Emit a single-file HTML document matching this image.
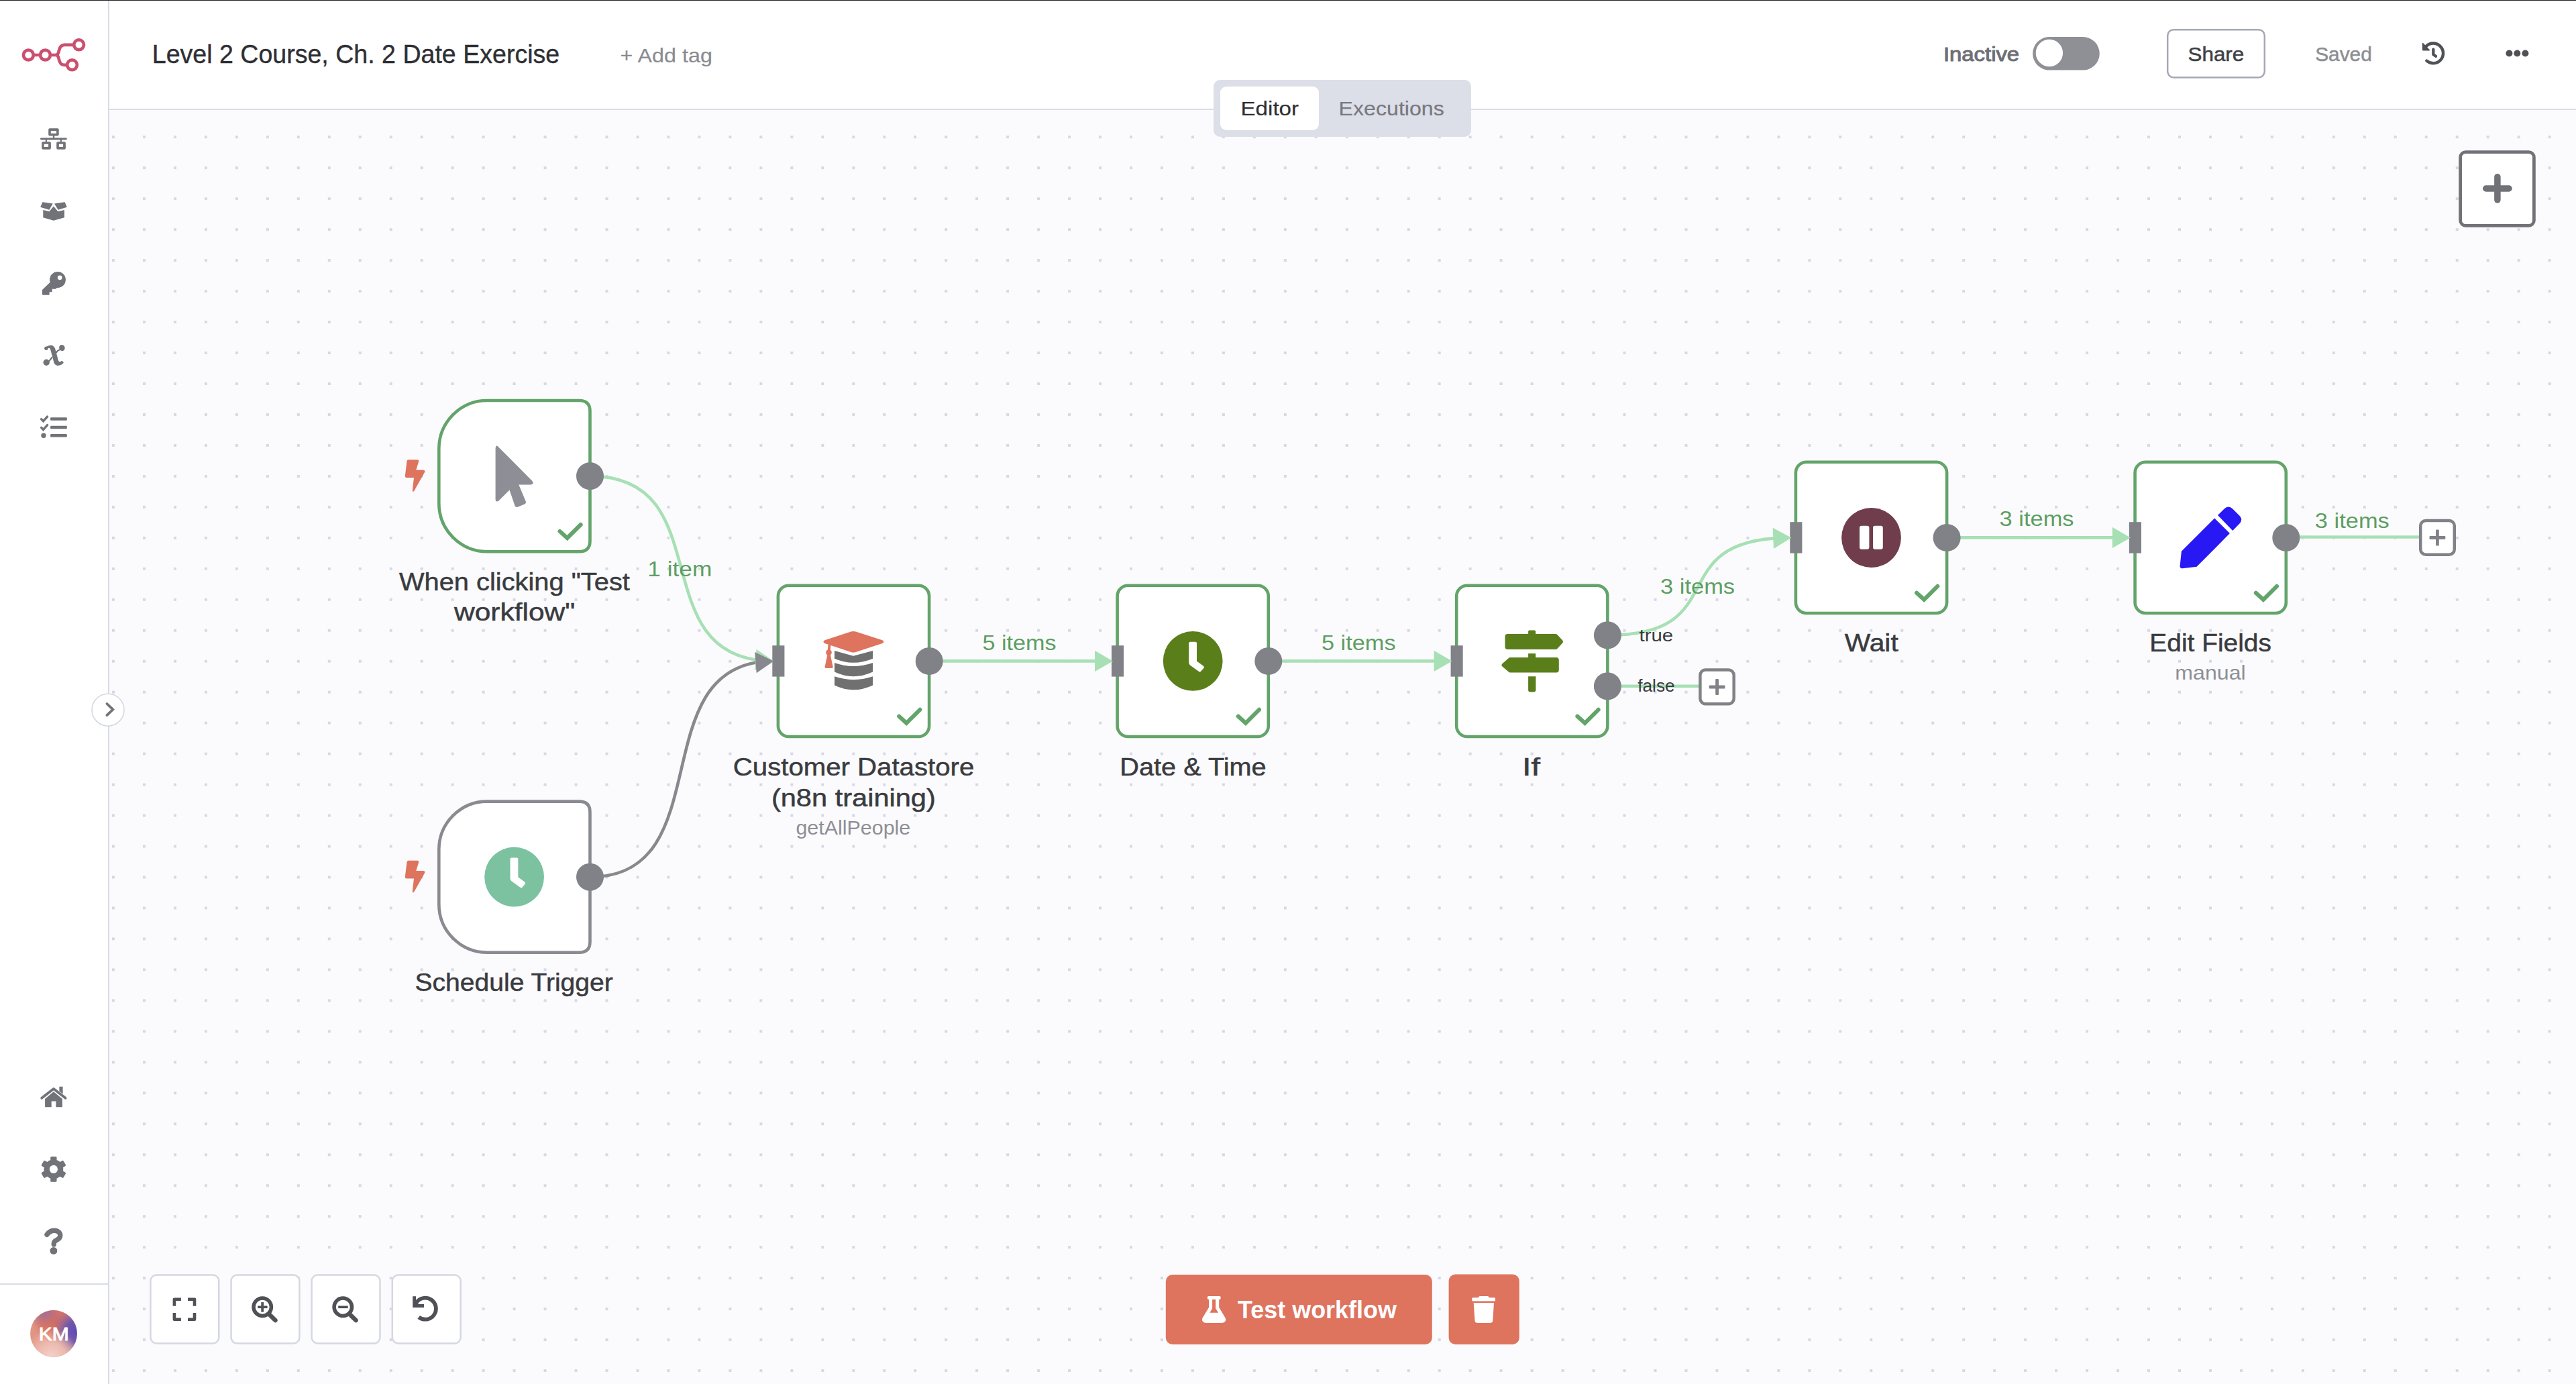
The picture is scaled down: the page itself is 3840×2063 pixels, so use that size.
<!DOCTYPE html>
<html><head><meta charset="utf-8"><title>n8n - Level 2 Course, Ch. 2 Date Exercise</title>
<style>
html,body{margin:0;padding:0;width:3840px;height:2063px;overflow:hidden;background:#fbfbfd;}
svg{display:block;font-family:"Liberation Sans",sans-serif;}
</style></head><body>
<svg width="3840" height="2063" viewBox="0 0 3840 2063">
<defs>
<pattern id="dots" x="167" y="202.25" width="45.97" height="45.97" patternUnits="userSpaceOnUse">
<rect x="0" y="0" width="4" height="4" fill="#d6d9e4"/>
</pattern>
<radialGradient id="av1" cx="0.55" cy="0.22" r="0.5"><stop offset="0" stop-color="#dc6c56"/><stop offset="0.6" stop-color="#dc6c56" stop-opacity="0.7"/><stop offset="1" stop-color="#dc6c56" stop-opacity="0"/></radialGradient>
<radialGradient id="av2" cx="1.0" cy="0.45" r="0.55"><stop offset="0" stop-color="#5a48b8"/><stop offset="0.45" stop-color="#6a54b0" stop-opacity="0.9"/><stop offset="1" stop-color="#8a70b0" stop-opacity="0"/></radialGradient>
<radialGradient id="av3" cx="0.45" cy="1.0" r="0.6"><stop offset="0" stop-color="#f4d2ca"/><stop offset="0.5" stop-color="#f0c4ba" stop-opacity="0.8"/><stop offset="1" stop-color="#f0c4ba" stop-opacity="0"/></radialGradient>
<radialGradient id="av4" cx="0.3" cy="0.0" r="0.4"><stop offset="0" stop-color="#a06c98"/><stop offset="1" stop-color="#a06c98" stop-opacity="0"/></radialGradient>
</defs>
<rect x="0" y="0" width="3840" height="2063" fill="#fbfbfd"/>
<rect x="163" y="164" width="3677" height="1899" fill="url(#dots)"/>

<path d="M879.5 709.6 C1073.4 709.6 958.3 974.1 1141.4 985.1" fill="none" stroke="#a7e0b4" stroke-width="4.6"/>
<path d="M879.5 1307.2 C1073.4 1307.2 958.3 998.6 1141.4 985.8" fill="none" stroke="#88898e" stroke-width="4.6"/>
<path d="M1385.2 985.4 L1639.0 985.4" stroke="#a7e0b4" stroke-width="4.6"/>
<path d="M1890.8 985.4 L2144.6 985.4" stroke="#a7e0b4" stroke-width="4.6"/>
<path d="M2396.4 946.8 C2586.4 946.8 2476.1 807.4 2658.3 801.6" fill="none" stroke="#a7e0b4" stroke-width="4.6"/>
<path d="M2396.4 1022.8 L2534 1022.8" stroke="#a7e0b4" stroke-width="4.6"/>
<path d="M2902.1 801.4 L3155.9 801.4" stroke="#a7e0b4" stroke-width="4.6"/>
<path d="M3407.8 800.5 L3608 800.5" stroke="#a7e0b4" stroke-width="4.6"/>
<path d="M726.3 597.0 H863.5 Q879.5 597.0 879.5 613.0 V806.2 Q879.5 822.2 863.5 822.2 H726.3 A72 72 0 0 1 654.3 750.2 V669.0 A72 72 0 0 1 726.3 597.0 Z" fill="#fff" stroke="#63a46a" stroke-width="4.6"/>
<path d="M726.3 1194.6 H863.5 Q879.5 1194.6 879.5 1210.6 V1403.8 Q879.5 1419.8 863.5 1419.8 H726.3 A72 72 0 0 1 654.3 1347.8 V1266.6 A72 72 0 0 1 726.3 1194.6 Z" fill="#fff" stroke="#8a8b90" stroke-width="4.6"/>
<rect x="1159.9" y="872.8" width="225.2" height="225.2" rx="16" ry="16" fill="#fff" stroke="#63a46a" stroke-width="4.6"/>
<rect x="1665.6" y="872.8" width="225.2" height="225.2" rx="16" ry="16" fill="#fff" stroke="#63a46a" stroke-width="4.6"/>
<rect x="2171.2" y="872.8" width="225.2" height="225.2" rx="16" ry="16" fill="#fff" stroke="#63a46a" stroke-width="4.6"/>
<rect x="2676.9" y="688.8" width="225.2" height="225.2" rx="16" ry="16" fill="#fff" stroke="#63a46a" stroke-width="4.6"/>
<rect x="3182.6" y="688.8" width="225.2" height="225.2" rx="16" ry="16" fill="#fff" stroke="#63a46a" stroke-width="4.6"/>
<circle cx="879.5" cy="709.6" r="20.5" fill="#818287"/>
<circle cx="879.5" cy="1307.2" r="20.5" fill="#818287"/>
<circle cx="1385.2" cy="985.4" r="20.5" fill="#818287"/>
<circle cx="1890.8" cy="985.4" r="20.5" fill="#818287"/>
<circle cx="2396.4" cy="946.8" r="20.5" fill="#818287"/>
<circle cx="2396.4" cy="1022.8" r="20.5" fill="#818287"/>
<circle cx="2902.1" cy="801.4" r="20.5" fill="#818287"/>
<circle cx="3407.8" cy="801.4" r="20.5" fill="#818287"/>
<rect x="1151.3" y="962.2" width="18.1" height="46.4" fill="#818287"/>
<rect x="1657.0" y="962.2" width="18.1" height="46.4" fill="#818287"/>
<rect x="2162.6" y="962.2" width="18.1" height="46.4" fill="#818287"/>
<rect x="2668.3" y="778.2" width="18.1" height="46.4" fill="#818287"/>
<rect x="3173.9" y="778.2" width="18.1" height="46.4" fill="#818287"/>
<path d="M1153.3 985.4 L1125.3 999.2 L1127.5 967.8 Z" fill="#a7e0b4"/>
<path d="M1153.3 985.4 L1127.7 1003.2 L1125.2 972.0 Z" fill="#88898e"/>
<path d="M1659.0 985.4 L1632.0 969.7 L1632.0 1001.1 Z" fill="#a7e0b4"/>
<path d="M2164.6 985.4 L2137.6 969.7 L2137.6 1001.1 Z" fill="#a7e0b4"/>
<path d="M2670.3 801.4 L2643.9 818.1 L2642.7 786.7 Z" fill="#a7e0b4"/>
<path d="M3175.9 801.4 L3148.9 785.7 L3148.9 817.1 Z" fill="#a7e0b4"/>
<polyline points="834.5,791.9 845.6,802.0 865.7,782.0" fill="none" stroke="#63a46a" stroke-width="6" stroke-linecap="round" stroke-linejoin="miter"/>
<polyline points="1340.2,1067.7 1351.2,1077.8 1371.4,1057.8" fill="none" stroke="#63a46a" stroke-width="6" stroke-linecap="round" stroke-linejoin="miter"/>
<polyline points="1845.8,1067.7 1856.9,1077.8 1877.0,1057.8" fill="none" stroke="#63a46a" stroke-width="6" stroke-linecap="round" stroke-linejoin="miter"/>
<polyline points="2351.4,1067.7 2362.6,1077.8 2382.7,1057.8" fill="none" stroke="#63a46a" stroke-width="6" stroke-linecap="round" stroke-linejoin="miter"/>
<polyline points="2857.1,883.7 2868.2,893.8 2888.3,873.8" fill="none" stroke="#63a46a" stroke-width="6" stroke-linecap="round" stroke-linejoin="miter"/>
<polyline points="3362.8,883.7 3373.9,893.8 3394.0,873.8" fill="none" stroke="#63a46a" stroke-width="6" stroke-linecap="round" stroke-linejoin="miter"/>
<rect x="2534.4" y="998.6" width="50.3" height="50.6" rx="8" fill="#fff" stroke="#818287" stroke-width="4.5"/><rect x="2547.7" y="1021.6" width="23.8" height="4.8" rx="1.2" fill="#818287"/><rect x="2557.2" y="1012.1" width="4.8" height="23.8" rx="1.2" fill="#818287"/>
<rect x="3608.2" y="776.1" width="50.6" height="50.6" rx="8" fill="#fff" stroke="#818287" stroke-width="4.5"/><rect x="3621.5" y="799.1" width="23.8" height="4.8" rx="1.2" fill="#818287"/><rect x="3631.0" y="789.6" width="4.8" height="23.8" rx="1.2" fill="#818287"/>
<path transform="translate(0.0,0.0)" d="M608.5 685.2 L622 685.2 Q625 685.6 624 688.5 L620.3 700.4 L631 700.4 Q634.5 701 633 704 L617.5 731.5 Q615.5 734.5 614.8 731 L617 712 L606 712 Q603.5 711.6 603.9 709 L606.5 687.5 Q607 685.3 608.5 685.2 Z" fill="#de735e"/>
<path transform="translate(0.0,597.6)" d="M608.5 685.2 L622 685.2 Q625 685.6 624 688.5 L620.3 700.4 L631 700.4 Q634.5 701 633 704 L617.5 731.5 Q615.5 734.5 614.8 731 L617 712 L606 712 Q603.5 711.6 603.9 709 L606.5 687.5 Q607 685.3 608.5 685.2 Z" fill="#de735e"/>
<path d="M742 665.2 L793.2 716.8 Q797 721.8 791 722.4 L773.3 722.4 L783.6 747 Q785 750.3 781.5 751.8 L772.3 755.6 Q768.6 756.9 767.4 753.4 L759.5 730.4 L743.6 746.2 Q738.6 749.6 738.6 744 L738.6 668.4 Q739.2 662.6 742 665.2 Z" fill="#8e8f96"/>
<circle cx="766.6" cy="1307.2" r="44.4" fill="#7cc2a1"/><path transform="translate(-1011.65,321.80)" d="M1774.2 956.7 H1782 Q1784 956.7 1784 958.7 V985.6 L1793.6 992.6 Q1795.6 994.2 1794.3 995.9 L1790.3 1000.6 Q1789 1002.2 1787.2 1001 L1774.6 992 Q1772.2 990.2 1772.2 987.4 V958.7 Q1772.2 956.7 1774.2 956.7 Z" fill="#fff"/>
<circle cx="1778.2" cy="985.4" r="44.4" fill="#5a7f1a"/><path transform="translate(0.00,0.00)" d="M1774.2 956.7 H1782 Q1784 956.7 1784 958.7 V985.6 L1793.6 992.6 Q1795.6 994.2 1794.3 995.9 L1790.3 1000.6 Q1789 1002.2 1787.2 1001 L1774.6 992 Q1772.2 990.2 1772.2 987.4 V958.7 Q1772.2 956.7 1774.2 956.7 Z" fill="#fff"/>
<g>
<path d="M1244 970 L1272.1 977.7 L1301.1 970 V981.7 Q1272.1 994 1244 981.7 Z" fill="#707070"/>
<path d="M1244 988 Q1272.1 998 1301.1 988 V1001.5 Q1272.1 1015 1244 1001.5 Z" fill="#707070"/>
<path d="M1244 1008.3 Q1272.1 1018 1301.1 1008.3 V1021.4 Q1272.1 1035 1244 1021.4 Z" fill="#707070"/>
<path d="M1229.5 954.2 L1268.5 941.5 Q1272.1 940.3 1275.7 941.5 L1315.3 954.2 Q1319.5 956.6 1315.3 959 L1275.7 972 Q1272.1 973.2 1268.5 972 L1229.5 959 Q1225.3 956.6 1229.5 954.2 Z" fill="#de735e"/>
<path d="M1234.5 961 L1238.5 961 L1237.5 971 L1233.5 971 Z" fill="#de735e"/>
<circle cx="1235.5" cy="972.6" r="4.3" fill="#de735e"/>
<path d="M1233.5 975.5 L1237.8 975.5 L1241.6 994 Q1242 996 1240 996 L1231 996 Q1229.3 996 1229.6 994 Z" fill="#de735e"/>
</g>
<g fill="#5a7f1a">
<path d="M2280.1 939.5 H2287.2 Q2289.2 939.5 2289.2 941.5 V946 H2278.1 V941.5 Q2278.1 939.5 2280.1 939.5 Z"/>
<path d="M2247.5 945.1 H2318.6 Q2320.4 945.1 2321.6 946.3 L2329.2 954.6 Q2330.6 956.6 2329.2 958.6 L2321.6 966.8 Q2320.4 968 2318.6 968 H2247.5 Q2243.5 968 2243.5 964 V949.1 Q2243.5 945.1 2247.5 945.1 Z"/>
<rect x="2278.1" y="974.1" width="11.1" height="6.5"/>
<path d="M2251.5 980.1 H2320 Q2323.8 980.1 2323.8 984 V998.6 Q2323.8 1002.5 2320 1002.5 H2251.5 Q2249.8 1002.5 2248.6 1001.3 L2239.2 993.2 Q2237.6 991.3 2239.2 989.4 L2248.6 981.3 Q2249.8 980.1 2251.5 980.1 Z"/>
<path d="M2278.1 1008.3 H2289.4 V1028.6 Q2289.4 1031.6 2286.4 1031.6 H2281.1 Q2278.1 1031.6 2278.1 1028.6 Z"/>
</g>
<circle cx="2789.5" cy="801.5" r="44.4" fill="#6f3d4b"/>
<rect x="2772" y="783.8" width="14.4" height="35" rx="3" fill="#fff"/>
<rect x="2792" y="783.8" width="14.8" height="35" rx="3" fill="#fff"/>
<path d="M3251.9 821.7 L3301.2 772.4 L3323.9 795.1 L3274.6 844.8 L3253.4 847.2 Q3249.2 847.6 3249.6 843.4 Z" fill="#2819f4"/>
<path d="M3306 768.1 L3315.6 758.6 Q3321.9 752.6 3328.2 758.6 L3338.2 768.4 Q3344.2 774.6 3338.2 780.8 L3328.2 791.1 Z" fill="#2819f4"/>
<text x="594.98" y="879.85" font-size="36.77" font-weight="normal" fill="#3a3b40" textLength="343.91" lengthAdjust="spacingAndGlyphs" stroke="#3a3b40" stroke-width="0.5" stroke-linejoin="round">When clicking &quot;Test</text>
<text x="676.97" y="925.25" font-size="36.77" font-weight="normal" fill="#3a3b40" textLength="180.40" lengthAdjust="spacingAndGlyphs" stroke="#3a3b40" stroke-width="0.5" stroke-linejoin="round">workflow&quot;</text>
<text x="1092.84" y="1155.65" font-size="36.77" font-weight="normal" fill="#3a3b40" textLength="359.41" lengthAdjust="spacingAndGlyphs" stroke="#3a3b40" stroke-width="0.5" stroke-linejoin="round">Customer Datastore</text>
<text x="1149.92" y="1201.55" font-size="36.77" font-weight="normal" fill="#3a3b40" textLength="244.93" lengthAdjust="spacingAndGlyphs" stroke="#3a3b40" stroke-width="0.5" stroke-linejoin="round">(n8n training)</text>
<text x="1186.40" y="1243.90" font-size="30.23" font-weight="normal" fill="#8e8f96" textLength="170.87" lengthAdjust="spacingAndGlyphs">getAllPeople</text>
<text x="1669.24" y="1155.65" font-size="36.77" font-weight="normal" fill="#3a3b40" textLength="218.48" lengthAdjust="spacingAndGlyphs" stroke="#3a3b40" stroke-width="0.5" stroke-linejoin="round">Date &amp; Time</text>
<text x="2269.10" y="1155.65" font-size="36.77" font-weight="normal" fill="#3a3b40" textLength="27.01" lengthAdjust="spacingAndGlyphs" stroke="#3a3b40" stroke-width="0.5" stroke-linejoin="round">If</text>
<text x="2749.66" y="971.45" font-size="36.77" font-weight="normal" fill="#3a3b40" textLength="80.12" lengthAdjust="spacingAndGlyphs" stroke="#3a3b40" stroke-width="0.5" stroke-linejoin="round">Wait</text>
<text x="3204.36" y="971.45" font-size="36.77" font-weight="normal" fill="#3a3b40" textLength="181.48" lengthAdjust="spacingAndGlyphs" stroke="#3a3b40" stroke-width="0.5" stroke-linejoin="round">Edit Fields</text>
<text x="3242.38" y="1013.00" font-size="30.23" font-weight="normal" fill="#8e8f96" textLength="105.33" lengthAdjust="spacingAndGlyphs">manual</text>
<text x="618.50" y="1476.95" font-size="36.77" font-weight="normal" fill="#3a3b40" textLength="295.30" lengthAdjust="spacingAndGlyphs" stroke="#3a3b40" stroke-width="0.5" stroke-linejoin="round">Schedule Trigger</text>
<text x="965.24" y="859.00" font-size="31.83" font-weight="normal" fill="#5d9e62" textLength="96.17" lengthAdjust="spacingAndGlyphs">1 item</text>
<text x="1464.50" y="968.80" font-size="31.83" font-weight="normal" fill="#5d9e62" textLength="109.99" lengthAdjust="spacingAndGlyphs">5 items</text>
<text x="1969.96" y="968.80" font-size="31.83" font-weight="normal" fill="#5d9e62" textLength="110.65" lengthAdjust="spacingAndGlyphs">5 items</text>
<text x="2475.06" y="885.30" font-size="31.83" font-weight="normal" fill="#5d9e62" textLength="110.99" lengthAdjust="spacingAndGlyphs">3 items</text>
<text x="2980.62" y="784.40" font-size="31.83" font-weight="normal" fill="#5d9e62" textLength="110.99" lengthAdjust="spacingAndGlyphs">3 items</text>
<text x="3450.84" y="786.90" font-size="31.83" font-weight="normal" fill="#5d9e62" textLength="110.99" lengthAdjust="spacingAndGlyphs">3 items</text>
<text x="2443.54" y="955.80" font-size="25.73" font-weight="normal" fill="#3a3b40" textLength="50.72" lengthAdjust="spacingAndGlyphs">true</text>
<text x="2441.20" y="1031.30" font-size="25.73" font-weight="normal" fill="#3a3b40" textLength="55.39" lengthAdjust="spacingAndGlyphs">false</text>
<rect x="0" y="0" width="161" height="2063" fill="#fff"/>
<rect x="161" y="0" width="2" height="2063" fill="#d9dce7"/>
<rect x="0" y="1913" width="161" height="2" fill="#d9dce7"/>
<rect x="163" y="0" width="3677" height="162" fill="#fff"/>
<rect x="163" y="162" width="3677" height="2" fill="#d9dce7"/>
<rect x="0" y="0" width="3840" height="1" fill="#232323"/>
<circle cx="161" cy="1058.2" r="24" fill="#fff" stroke="#d5d8e3" stroke-width="1.6"/>
<polyline points="159.4,1049 168.3,1057.6 159.4,1066.2" fill="none" stroke="#727379" stroke-width="3.8" stroke-linecap="round" stroke-linejoin="miter"/>
<g fill="none" stroke="#cb4f70" stroke-width="4.7">
<circle cx="42.4" cy="82" r="7.4"/><circle cx="67.5" cy="82" r="7.4"/>
<circle cx="117.6" cy="66.8" r="7.4"/><circle cx="107.5" cy="96.8" r="7.4"/>
<path d="M49.8 82 H60.1 M74.9 82 H82.5 C86.5 82 87.2 79 87.9 75.5 C89 70 91 66.8 96 66.8 H110.2 M82.5 82 C86.5 82 87.2 85 87.9 88.5 C89 94 91 96.8 96 96.8 H100.1"/>
</g>
<g fill="#727379">
<path fill-rule="evenodd" d="M74.2 191.2 H85.7 Q87.7 191.2 87.7 193.2 V200.6 Q87.7 202.6 85.7 202.6 H74.2 Q72.2 202.6 72.2 200.6 V193.2 Q72.2 191.2 74.2 191.2 Z M75.8 195 V199.1 H84.1 V195 Z"/>
<rect x="78.8" y="202" width="2.4" height="4"/>
<rect x="60" y="205.6" width="39.8" height="2.8" rx="1.4"/>
<rect x="67.8" y="208" width="2.2" height="3.6"/>
<rect x="89.8" y="208" width="2.2" height="3.6"/>
<path fill-rule="evenodd" d="M64.2 211.2 H73.9 Q75.9 211.2 75.9 213.2 V220.7 Q75.9 222.7 73.9 222.7 H64.2 Q62.2 222.7 62.2 220.7 V213.2 Q62.2 211.2 64.2 211.2 Z M65.7 214.7 V219 H72.1 V214.7 Z"/>
<path fill-rule="evenodd" d="M86.2 211.2 H95.9 Q97.9 211.2 97.9 213.2 V220.7 Q97.9 222.7 95.9 222.7 H86.2 Q84.2 222.7 84.2 220.7 V213.2 Q84.2 211.2 86.2 211.2 Z M87.9 214.7 V219 H94.1 V214.7 Z"/>
</g>
<g fill="#727379">
<path d="M63.4 301.3 L78.8 303.6 L73.4 312.7 L60.2 308.8 Z"/>
<path d="M81 303.6 L96.6 301.3 L99.8 308.8 L86.6 312.7 Z"/>
<path d="M64.3 313 L73.4 315.3 L79.9 307.5 L86.4 315.3 L96 313 V324.2 L79.9 328.8 L64.3 324.2 Z"/>
</g>
<g fill="#727379"><circle cx="86" cy="417" r="11.9"/>
<path d="M76 419.5 L63 432 V438.5 Q63 439.8 64.3 439.8 H73.6 V435.3 H77.7 V430.7 H83 L86 428 Z"/></g>
<circle cx="89.2" cy="413.8" r="3.4" fill="#fff"/>
<path d="M66.47 519.37 C67 518.3 67.7 517.7 68.64 517.2 C70 516.3 71.2 515.6 72.54 515.25 C73.8 514.8 74.9 514.6 76.01 514.6 C77.3 514.7 78.6 515.1 79.48 515.9 C80.4 516.7 81.1 517.5 81.64 518.5 C82.2 519.7 82.6 521 82.94 522.4 L84.24 527.18 L85.98 533.68 C86.4 535.5 86.8 537 87.28 538.01 C87.8 538.9 88.4 539.3 89.01 539.31 C89.9 539.3 90.8 538.6 91.61 538.23 C92.4 537.9 93.2 538.2 93.78 538.88 C94.5 539.5 94.8 540 94.65 540.61 C94.4 541.6 93.7 542.3 92.91 542.78 C91.6 543.5 90.3 544.1 89.01 544.51 C87.8 544.9 86.7 545.1 85.54 544.95 C84.2 544.7 83 544.1 82.08 543.21 C81.2 542.3 80.7 541.3 80.34 540.18 L78.61 533.68 L76.87 527.18 L75.57 522.41 C75.2 521 74.8 520 74.27 519.37 C73.7 518.8 73.1 518.7 72.54 518.72 C71.8 518.8 71.1 519.2 70.37 519.59 C69.6 520 68.9 520.5 68.21 520.67 C67.5 520.8 66.9 520.5 66.47 519.8 Z" fill="#727379"/>
<path d="M90.5 520.5 C87.5 521.5 85.5 523 83.4 525.8 M77.2 533 C75.5 535.8 74 537.6 72 539" fill="none" stroke="#727379" stroke-width="2.3" stroke-linecap="round"/>
<ellipse cx="92.4" cy="518.6" rx="4.2" ry="4.7" transform="rotate(-25 92.4 518.6)" fill="#727379"/>
<ellipse cx="69.2" cy="540.3" rx="4.7" ry="4.7" fill="#727379"/><circle cx="68.9" cy="519.3" r="2.7" fill="#727379"/>
<g fill="#727379">
<rect x="75.1" y="622.3" width="24.7" height="4.5" rx="1"/>
<rect x="75.1" y="634.7" width="24.7" height="4.5" rx="1"/>
<rect x="75.1" y="647.1" width="24.7" height="4.5" rx="1"/>
<circle cx="65" cy="649.3" r="3.7"/></g>
<g fill="none" stroke="#727379" stroke-width="3.4" stroke-linecap="round">
<polyline points="61.6,624.8 64.5,627.8 70.6,621"/>
<polyline points="61.6,637.4 64.5,640.4 70.6,633.6"/></g>
<g fill="#727379">
<path d="M62.2 1636.8 L79.9 1622.9 L97.6 1636.8" fill="none" stroke="#727379" stroke-width="3.8" stroke-linecap="round" stroke-linejoin="round"/>
<path d="M88.4 1619.7 H93.6 V1630.4 L88.4 1626.6 Z"/>
<path d="M67.1 1638 L79.9 1627.3 L92.9 1638 V1650.3 H83.4 V1641.4 H76.7 V1650.3 H67.1 Z"/>
</g>
<circle cx="79.9" cy="1742.9" r="14.4" fill="#727379"/><rect x="75.25" y="1724" width="9.3" height="10" rx="1.6" fill="#727379" transform="rotate(0 79.9 1742.9)"/><rect x="75.25" y="1724" width="9.3" height="10" rx="1.6" fill="#727379" transform="rotate(60 79.9 1742.9)"/><rect x="75.25" y="1724" width="9.3" height="10" rx="1.6" fill="#727379" transform="rotate(120 79.9 1742.9)"/><rect x="75.25" y="1724" width="9.3" height="10" rx="1.6" fill="#727379" transform="rotate(180 79.9 1742.9)"/><rect x="75.25" y="1724" width="9.3" height="10" rx="1.6" fill="#727379" transform="rotate(240 79.9 1742.9)"/><rect x="75.25" y="1724" width="9.3" height="10" rx="1.6" fill="#727379" transform="rotate(300 79.9 1742.9)"/><circle cx="79.9" cy="1742.9" r="6.1" fill="#fff"/>
<path d="M70 1840.3 C73 1836.5 76.3 1834.3 80.6 1834.3 C86.2 1834.3 89.8 1837.4 89.8 1841.6 C89.8 1845.4 87.1 1847.3 83.8 1848.8 C81.2 1850 80.3 1851.4 80.3 1853.8 V1855" fill="none" stroke="#727379" stroke-width="7.4" stroke-linecap="round"/>
<circle cx="79.9" cy="1864.4" r="5.4" fill="#727379"/>
<circle cx="80" cy="1987.9" r="34.9" fill="#e09482"/>
<circle cx="80" cy="1987.9" r="34.9" fill="url(#av1)"/>
<circle cx="80" cy="1987.9" r="34.9" fill="url(#av2)"/>
<circle cx="80" cy="1987.9" r="34.9" fill="url(#av3)"/>
<circle cx="80" cy="1987.9" r="34.9" fill="url(#av4)"/>
<text x="57.70" y="1998.10" font-size="28.49" font-weight="normal" fill="#fff" textLength="45.05" lengthAdjust="spacingAndGlyphs" stroke="#fff" stroke-width="1.0" stroke-linejoin="round">KM</text>
<text x="226.80" y="93.60" font-size="38.37" font-weight="normal" fill="#2e2f34" textLength="607.37" lengthAdjust="spacingAndGlyphs" stroke="#2e2f34" stroke-width="0.4" stroke-linejoin="round">Level 2 Course, Ch. 2 Date Exercise</text>
<text x="924.52" y="92.80" font-size="29.80" font-weight="normal" fill="#8a8b91" textLength="137.42" lengthAdjust="spacingAndGlyphs" stroke="#8a8b91" stroke-width="0.2" stroke-linejoin="round">+ Add tag</text>
<text x="2896.94" y="91.40" font-size="28.92" font-weight="normal" fill="#6e6f75" textLength="113.21" lengthAdjust="spacingAndGlyphs" stroke="#6e6f75" stroke-width="1.0" stroke-linejoin="round">Inactive</text>
<rect x="3030.1" y="55.1" width="99.7" height="49.5" rx="24.75" fill="#8f9096"/><circle cx="3054.9" cy="79" r="20.2" fill="#fff"/>
<rect x="3231.2" y="44.2" width="144.6" height="71.3" rx="9" fill="#fff" stroke="#a5a8b2" stroke-width="2.5"/>
<text x="3261.50" y="90.65" font-size="29.22" font-weight="normal" fill="#3f4045" textLength="83.78" lengthAdjust="spacingAndGlyphs" stroke="#3f4045" stroke-width="0.5" stroke-linejoin="round">Share</text>
<text x="3451.20" y="90.65" font-size="29.22" font-weight="normal" fill="#8d8e93" textLength="84.63" lengthAdjust="spacingAndGlyphs" stroke="#8d8e93" stroke-width="0.5" stroke-linejoin="round">Saved</text>
<path d="M3616.8 68.8 A14.85 14.85 0 1 1 3617.4 90.6" fill="none" stroke="#505156" stroke-width="4.5" stroke-linecap="round"/>
<path d="M3610.9 64.5 Q3611 63 3612.3 64.3 L3621.9 74.2 Q3622.5 75.4 3621 75.4 H3612.4 Q3610.9 75.4 3610.9 73.9 Z" fill="#505156"/>
<path d="M3627.3 73.6 V81.2 L3631 83.8" fill="none" stroke="#505156" stroke-width="4.3" stroke-linecap="round" stroke-linejoin="round"/>
<g fill="#505156"><circle cx="3740.4" cy="79.5" r="5"/><circle cx="3752.3" cy="79.5" r="5"/><circle cx="3764.4" cy="79.5" r="5"/></g>
<rect x="1809" y="119" width="384" height="85" rx="10" fill="#dcdee8"/>
<rect x="1819" y="129" width="147" height="65" rx="9" fill="#fff"/>
<text x="1849.48" y="171.70" font-size="29.51" font-weight="normal" fill="#2e2f34" textLength="86.65" lengthAdjust="spacingAndGlyphs" stroke="#2e2f34" stroke-width="0.2" stroke-linejoin="round">Editor</text>
<text x="1995.60" y="171.70" font-size="29.51" font-weight="normal" fill="#78797f" textLength="157.19" lengthAdjust="spacingAndGlyphs" stroke="#78797f" stroke-width="0.2" stroke-linejoin="round">Executions</text>
<rect x="3667.6" y="226.6" width="109.8" height="109.8" rx="8" fill="#fff" stroke="#717277" stroke-width="4.75"/>
<path d="M3705.7 281 H3740.1 M3722.9 263.7 V298.1" stroke="#717277" stroke-width="9.5" stroke-linecap="round"/>
<rect x="224.4" y="1900.5" width="101.9" height="101.9" rx="9" fill="#fff" stroke="#d5d8e3" stroke-width="2.5"/>
<rect x="344.5" y="1900.5" width="101.9" height="101.9" rx="9" fill="#fff" stroke="#d5d8e3" stroke-width="2.5"/>
<rect x="464.6" y="1900.5" width="101.9" height="101.9" rx="9" fill="#fff" stroke="#d5d8e3" stroke-width="2.5"/>
<rect x="584.8" y="1900.5" width="101.9" height="101.9" rx="9" fill="#fff" stroke="#d5d8e3" stroke-width="2.5"/>
<g fill="none" stroke="#505156" stroke-width="4.6" stroke-linejoin="round">
<path d="M259.9 1946.7 V1936.8 H269.9"/><path d="M280 1936.8 H290 V1946.7"/>
<path d="M259.9 1956.9 V1966.8 H269.9"/><path d="M280 1966.8 H290 V1956.9"/></g>
<g transform="translate(0.0,0)"><circle cx="391.2" cy="1948.2" r="13.25" fill="none" stroke="#505156" stroke-width="5.5"/><path d="M402.6 1960.4 L410.4 1968" stroke="#505156" stroke-width="6.6" stroke-linecap="round"/><rect x="384.1" y="1946.5" width="14.5" height="3.6" fill="#505156"/><rect x="389.3" y="1941.1" width="3.7" height="14.5" fill="#505156"/></g>
<g transform="translate(120.1,0)"><circle cx="391.2" cy="1948.2" r="13.25" fill="none" stroke="#505156" stroke-width="5.5"/><path d="M402.6 1960.4 L410.4 1968" stroke="#505156" stroke-width="6.6" stroke-linecap="round"/><rect x="384.1" y="1946.5" width="14.5" height="3.6" fill="#505156"/></g>
<path d="M620.5 1942 A16 16 0 1 1 624.2 1963.4" fill="none" stroke="#505156" stroke-width="5.8"/>
<path d="M615.2 1932.2 H620.1 V1940.1 L623.9 1944.1 H632 V1949 H615.2 Z" fill="#505156"/>
<rect x="1737.8" y="1900" width="397" height="104" rx="10" fill="#de735e"/>
<rect x="2159.6" y="1899.5" width="105.2" height="104.5" rx="10" fill="#de735e"/>
<text x="1845.00" y="1964.90" font-size="36.34" font-weight="bold" fill="#fff" textLength="236.94" lengthAdjust="spacingAndGlyphs">Test workflow</text>
<path fill="#fff" fill-rule="evenodd" d="M1801.9 1932 H1817.7 Q1819.8 1932 1819.8 1934.4 Q1819.8 1936.9 1817.7 1936.9 H1817.2 V1948.8 L1826.6 1964.6 Q1828.3 1968.5 1825.5 1970.6 Q1824 1971.9 1821.5 1971.9 H1797.5 Q1795 1971.9 1793.6 1970.6 Q1790.8 1968.5 1792.6 1964.6 L1802.1 1948.8 V1936.9 H1801.9 Q1799.7 1936.9 1799.7 1934.4 Q1799.7 1932 1801.9 1932 Z M1807.1 1936.9 V1950.4 L1803.3 1956.8 H1816.2 L1812.2 1950.4 V1936.9 Z"/>
<path fill="#fff" d="M2206.2 1932 H2217.5 Q2218.6 1932 2219.2 1933 L2220 1934.3 H2227.6 Q2229.1 1934.3 2229.1 1935.8 V1938 Q2229.1 1939.5 2227.6 1939.5 H2195.7 Q2194.2 1939.5 2194.2 1938 V1935.8 Q2194.2 1934.3 2195.7 1934.3 H2203.6 L2204.5 1933 Q2205.1 1932 2206.2 1932 Z"/>
<path fill="#fff" d="M2196.7 1942.1 H2227 L2225.3 1968.6 Q2225 1971.9 2221.8 1971.9 H2201.9 Q2198.7 1971.9 2198.5 1968.6 Z"/>
</svg>
</body></html>
